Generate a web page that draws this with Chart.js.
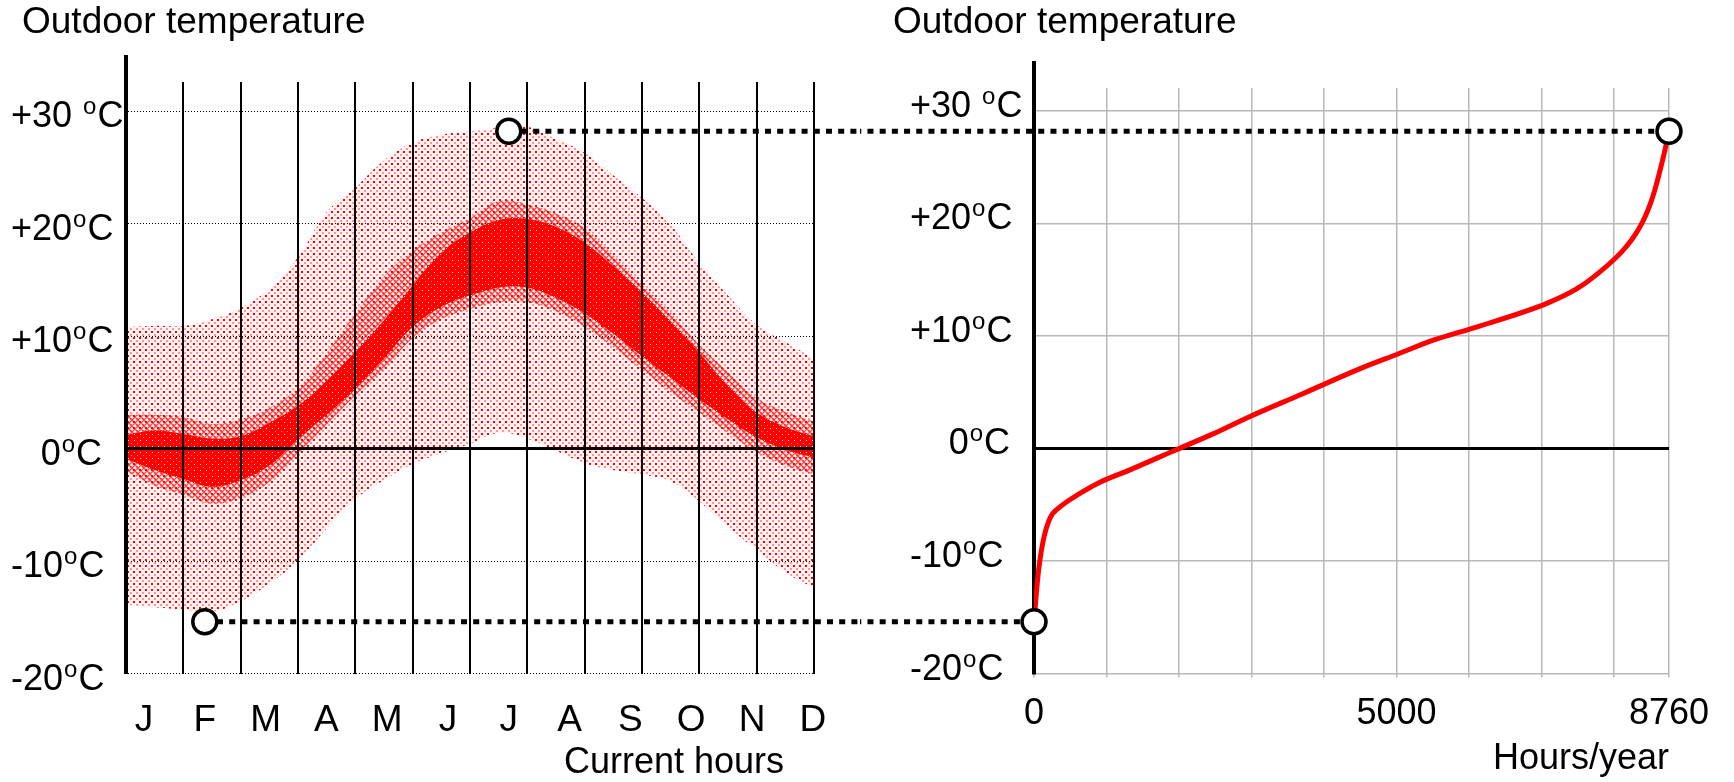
<!DOCTYPE html>
<html>
<head>
<meta charset="utf-8">
<script src="https://cdn.jsdelivr.net/npm/chart.js"></script>
<style>
  html, body { margin: 0; padding: 0; background: #fff; }
  #wrap { position: relative; width: 1734px; height: 782px; }
  canvas { position: absolute; top: 0; }
  #left { left: 0; }
  #right { left: 860px; }
</style>
</head>
<body>
<div id="wrap">
  <canvas id="left" width="860" height="782"></canvas>
  <canvas id="right" width="874" height="782"></canvas>
</div>
<script>
// ---- data ----
var months = ["J", "F", "M", "A", "M", "J", "J", "A", "S", "O", "N", "D"];
// position in months from the start of the year
var monthPos = [0, 0.5, 1, 1.5, 2, 2.5, 3, 3.5, 4, 4.5, 5, 5.5, 6, 6.5, 7, 7.5, 8, 8.5, 9, 9.5, 10, 10.5, 11, 11.5, 12];
var outerHigh = [10.8, 10.9, 10.9, 11.5, 12.5, 14.2, 17.0, 21.0, 23.2, 25.6, 27.2, 27.9, 28.2, 28.5, 28.6, 27.5, 26.3, 24.3, 22.3, 19.9, 16.5, 13.6, 11.0, 9.5, 8.0];
var midHigh   = [3.0, 3.0, 2.8, 2.2, 2.6, 3.6, 5.4, 8.5, 12.0, 15.3, 17.6, 19.2, 20.5, 22.0, 21.7, 20.9, 19.6, 17.2, 14.6, 12.1, 9.2, 6.8, 4.5, 3.3, 2.4];
var innerHigh = [1.2, 1.6, 1.3, 0.9, 1.1, 2.3, 3.8, 6.0, 8.6, 11.4, 14.5, 17.4, 19.2, 20.3, 20.4, 19.7, 18.3, 16.2, 13.9, 11.3, 8.5, 5.6, 3.2, 1.9, 1.1];
var innerLow  = [-0.9, -1.9, -2.7, -3.4, -2.8, -1.5, 0.8, 3.0, 5.3, 8.0, 10.8, 12.6, 13.6, 14.3, 14.3, 13.4, 12.0, 10.2, 8.2, 6.3, 4.4, 2.6, 1.0, -0.1, -0.8];
var midLow    = [-2.0, -3.3, -4.1, -4.9, -4.4, -3.0, -0.5, 2.1, 4.7, 7.0, 9.8, 11.5, 12.4, 13.0, 13.0, 12.2, 10.8, 9.0, 7.0, 5.0, 3.2, 1.4, -0.3, -1.5, -2.3];
var outerLow  = [-13.9, -14.1, -14.3, -14.5, -13.6, -12.0, -10.0, -7.1, -4.5, -2.8, -1.4, -0.4, 0.4, 1.4, 0.9, -0.2, -1.3, -1.9, -2.3, -2.9, -4.7, -7.0, -9.0, -11.0, -12.4];

// hours of the year sorted by temperature
var durationHours = [0, 55, 124, 220, 359, 634, 910, 1324, 1931, 2469, 2966, 3683, 4500, 5021, 5500, 6055, 7076, 7490, 7807, 8110, 8250, 8350, 8430, 8500, 8570, 8640, 8700, 8760];
var durationTemps = [-15.4, -11.3, -8.3, -6.2, -5.2, -4.0, -3.0, -1.9, -0.2, 1.3, 2.8, 4.8, 7.1, 8.4, 9.6, 10.7, 12.9, 14.2, 15.7, 17.5, 18.6, 19.6, 20.6, 21.7, 23.1, 24.8, 26.4, 28.2];

var minTemp = -15.4;   // coldest hour (February)
var maxTemp = 28.2;    // warmest hour (July)
var minMonth = 1;
var maxMonth = 6;

var tempTicks = [-20, -10, 0, 10, 20, 30];
var hourTicks = [0, 1000, 2000, 3000, 4000, 5000, 6000, 7000, 8000, 8760];
var hourLabels = [0, 5000, 8760];

var fontFamily = "'Liberation Sans', Arial, sans-serif";
Chart.defaults.font.family = fontFamily;
Chart.defaults.color = "#000";

function toPoints(xs, ys) {
  return xs.map(function(x, i) { return {x: x, y: ys[i]}; });
}

function makePattern(ctx, size, paint) {
  var c = document.createElement("canvas");
  c.width = size;
  c.height = size;
  paint(c.getContext("2d"));
  return ctx.createPattern(c, "repeat");
}

// y tick labels with a raised "o"
var degreeLabels = {
  id: "degreeLabels",
  afterDraw: function(chart, args, opts) {
    var scale = chart.scales.y;
    var ctx = chart.ctx;
    ctx.save();
    ctx.fillStyle = "#000";
    ctx.textBaseline = "alphabetic";
    ctx.textAlign = "left";
    tempTicks.forEach(function(v) {
      var base = scale.getPixelForValue(v) + opts.dy + 13;
      var num = v > 0 ? "+" + v : String(v);
      if (v === 30) num += " ";
      ctx.font = "36px " + fontFamily;
      var w1 = ctx.measureText(num).width;
      var wC = ctx.measureText("C").width;
      ctx.font = "24px " + fontFamily;
      var wo = ctx.measureText("o").width;
      var x = v === 0 ? opts.zeroEnd - (w1 + wo + wC + 2) : opts.start;
      ctx.font = "36px " + fontFamily;
      ctx.fillText(num, x, base);
      ctx.font = "24px " + fontFamily;
      ctx.fillText("o", x + w1 + 1, base - 13);
      ctx.font = "36px " + fontFamily;
      ctx.fillText("C", x + w1 + wo + 2, base);
    });
    ctx.restore();
  }
};

// the temperature axis line sticks out above the plot
var axisStem = {
  id: "axisStem",
  afterDraw: function(chart, args, opts) {
    var s = chart.scales.y;
    var ctx = chart.ctx;
    ctx.save();
    ctx.strokeStyle = "#000";
    ctx.lineWidth = 4;
    ctx.beginPath();
    ctx.moveTo(s.right, chart.chartArea.top + 2);
    ctx.lineTo(s.right, chart.chartArea.top - opts.height);
    ctx.stroke();
    ctx.restore();
  }
};

function tempTickList(s) {
  s.ticks = tempTicks.map(function(v) { return {value: v}; });
}

// ----------------------------- left chart: temperature over the year -----------------------------
var leftCtx = document.getElementById("left").getContext("2d");

var dotFill = makePattern(leftCtx, 6, function(g) {
  g.fillStyle = "rgba(255,0,0,0.05)";
  g.fillRect(0, 0, 6, 6);
  g.fillStyle = "rgba(255,0,0,1)";
  g.fillRect(1, 1, 2, 2);
  g.fillStyle = "rgba(255,60,60,0.5)";
  g.fillRect(4, 4, 2, 2);
});
var hatchFill = makePattern(leftCtx, 6, function(g) {
  g.strokeStyle = "rgba(255,0,0,0.7)";
  g.lineWidth = 1.3;
  g.beginPath();
  g.moveTo(0, 0); g.lineTo(6, 6);
  g.moveTo(6, 0); g.lineTo(0, 6);
  g.stroke();
});
var solidFill = makePattern(leftCtx, 6, function(g) {
  g.fillStyle = "#ff0000";
  g.fillRect(0, 0, 6, 6);
  g.fillStyle = "rgba(255,255,255,0.9)";
  g.fillRect(2, 2, 1, 1);
  g.fillStyle = "rgba(255,210,210,0.6)";
  g.fillRect(5, 5, 1, 1);
});

function band(values, fillStyle, order) {
  return {
    data: toPoints(monthPos, values),
    borderColor: "transparent",
    borderWidth: 0,
    pointRadius: 0,
    tension: 0.4,
    fill: fillStyle ? "+1" : false,
    backgroundColor: fillStyle || "transparent",
    order: order
  };
}

function connector(xAxis, x0, x1, y) {
  return {
    xAxisID: xAxis,
    data: [{x: x0, y: y}, {x: x1, y: y}],
    borderColor: "#000",
    borderWidth: 5,
    borderDash: [6, 6.2],
    borderCapStyle: "butt",
    pointRadius: 0,
    fill: false,
    clip: false,
    order: 1
  };
}

function circles(xAxis, pts) {
  return {
    xAxisID: xAxis,
    data: pts,
    showLine: false,
    pointRadius: 12,
    pointBorderWidth: 3.5,
    pointBackgroundColor: "#fff",
    pointBorderColor: "#000",
    clip: false,
    order: 0
  };
}

new Chart(leftCtx, {
  type: "line",
  data: {
    datasets: [
      circles("xm", [{x: minMonth, y: minTemp}, {x: maxMonth, y: maxTemp}]),
      connector("xm", minMonth, 20, minTemp),
      connector("xm", maxMonth, 20, maxTemp),
      band(innerHigh, solidFill, 2),
      band(innerLow, null, 2),
      band(midHigh, hatchFill, 3),
      band(midLow, null, 3),
      band(outerHigh, dotFill, 4),
      band(outerLow, null, 4)
    ]
  },
  options: {
    responsive: false,
    animation: false,
    events: [],
    layout: {padding: {left: 22, right: 46, top: 0, bottom: 0}},
    plugins: {
      legend: {display: false},
      tooltip: {enabled: false},
      title: {
        display: true,
        text: "Outdoor temperature",
        align: "start",
        color: "#000",
        font: {size: 37, weight: "normal", lineHeight: 1.2},
        padding: {top: 1, bottom: 36.6}
      },
      degreeLabels: {start: 11, zeroEnd: 102, dy: 3},
      axisStem: {height: 27}
    },
    scales: {
      x: {
        type: "linear",
        min: 0,
        max: 12,
        ticks: {display: false, stepSize: 1},
        grid: {color: "#000", lineWidth: 2, drawTicks: false, z: 1},
        border: {display: false},
        afterFit: function(s) { s.height = 0; }
      },
      xm: {
        type: "linear",
        axis: "x",
        position: "bottom",
        min: -0.296,
        max: 11.02,
        afterBuildTicks: function(s) {
          s.ticks = months.map(function(m, i) { return {value: i}; });
        },
        ticks: {
          autoSkip: false,
          maxRotation: 0,
          padding: 17,
          color: "#000",
          font: {size: 37},
          callback: function(v) { return months[v]; }
        },
        grid: {display: false},
        border: {display: false},
        title: {
          display: true,
          text: "Current hours   ",
          align: "end",
          color: "#000",
          font: {size: 36},
          padding: {top: 0, bottom: -3}
        },
        afterFit: function(s) { s.height = 108.5; }
      },
      y: {
        type: "linear",
        min: -20,
        max: 32.58,
        afterBuildTicks: tempTickList,
        ticks: {display: false},
        grid: {color: "#000", lineWidth: 1, drawTicks: false},
        border: {color: "#000", width: 4, dash: [1, 2], z: 1},
        afterFit: function(s) { s.width = 104; }
      },
      yz: {
        type: "linear",
        axis: "y",
        position: "left",
        min: -20,
        max: 32.58,
        afterBuildTicks: function(s) { s.ticks = [{value: 0}]; },
        ticks: {display: false},
        grid: {color: "#000", lineWidth: 3, drawTicks: false, z: 1},
        border: {display: false},
        afterFit: function(s) { s.width = 0; }
      }
    }
  },
  plugins: [degreeLabels, axisStem]
});

// ----------------------------- right chart: duration curve -----------------------------
var rightCtx = document.getElementById("right").getContext("2d");

new Chart(rightCtx, {
  type: "line",
  data: {
    datasets: [
      circles("x", [{x: 0, y: minTemp}, {x: 8760, y: maxTemp}]),
      connector("x", -6000, 0, minTemp),
      connector("x", -6000, 8760, maxTemp),
      {
        data: toPoints(durationHours, durationTemps),
        borderColor: "#ff0000",
        borderWidth: 5,
        pointRadius: 0,
        tension: 0.4,
        cubicInterpolationMode: "monotone",
        fill: false,
        order: 2
      }
    ]
  },
  options: {
    responsive: false,
    animation: false,
    events: [],
    layout: {padding: {left: 33, right: 65, top: 0, bottom: 0}},
    plugins: {
      legend: {display: false},
      tooltip: {enabled: false},
      title: {
        display: true,
        text: "Outdoor temperature",
        align: "start",
        color: "#000",
        font: {size: 37, weight: "normal", lineHeight: 1.2},
        padding: {top: 1, bottom: 42.6}
      },
      degreeLabels: {start: 50, zeroEnd: 150, dy: -7},
      axisStem: {height: 27}
    },
    scales: {
      x: {
        type: "linear",
        min: 0,
        max: 8760,
        afterBuildTicks: function(s) {
          s.ticks = hourTicks.map(function(v) { return {value: v}; });
        },
        ticks: {
          autoSkip: false,
          maxRotation: 0,
          padding: 15,
          color: "#000",
          font: {size: 36},
          callback: function(v) { return hourLabels.indexOf(v) >= 0 ? String(v) : ""; }
        },
        grid: {color: "#b8b8b8", lineWidth: 1.5, tickLength: 4},
        border: {display: false},
        title: {
          display: true,
          text: "Hours/year",
          align: "end",
          color: "#000",
          font: {size: 36},
          padding: {top: 0, bottom: 1}
        },
        afterFit: function(s) { s.height = 108.5; }
      },
      y: {
        type: "linear",
        min: -20,
        max: 32.04,
        afterBuildTicks: tempTickList,
        ticks: {display: false},
        grid: {color: "#b8b8b8", lineWidth: 1.5, drawTicks: false},
        border: {color: "#000", width: 4},
        afterFit: function(s) { s.width = 141; }
      },
      yz: {
        type: "linear",
        axis: "y",
        position: "left",
        min: -20,
        max: 32.04,
        afterBuildTicks: function(s) { s.ticks = [{value: 0}]; },
        ticks: {display: false},
        grid: {color: "#000", lineWidth: 3, drawTicks: false},
        border: {display: false},
        afterFit: function(s) { s.width = 0; }
      }
    }
  },
  plugins: [degreeLabels, axisStem]
});
</script>
</body>
</html>
